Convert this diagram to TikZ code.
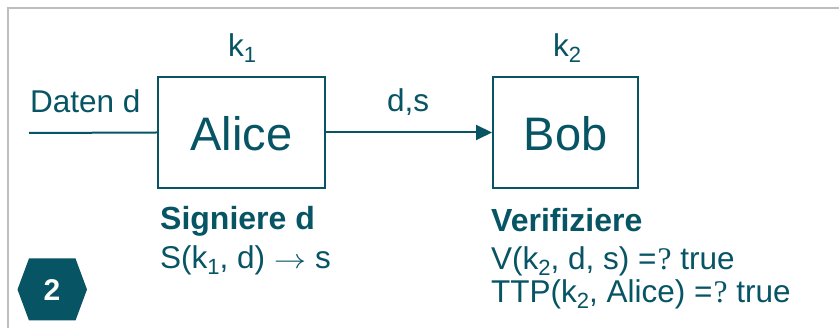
\documentclass[tikz,border=0pt]{standalone}
\usepackage{fontspec}
\usepackage{graphicx}
\setmainfont{Liberation Sans}
\newfontfamily\serifq{Liberation Serif}
\usetikzlibrary{arrows.meta}
\definecolor{teal1}{RGB}{6,84,100}
\definecolor{framegray}{RGB}{190,190,190}
\newcommand{\mysub}[1]{\raisebox{-6pt}[\height][1pt]{\fontsize{22}{22}\selectfont #1}}
\newcommand{\qeq}{=\kern1pt{\serifq ?}}
\begin{document}
\begin{tikzpicture}[x=1pt,y=-1pt,
  txt/.style={inner sep=0pt, anchor=base west, text=teal1, font=\fontsize{31.5}{36}\selectfont},
  boldtxt/.style={txt, font=\fontsize{32}{36}\selectfont\bfseries},
  party/.style={draw=teal1, line width=2pt, inner sep=0pt, text=teal1, font=\fontsize{47}{56}\selectfont, minimum height=111pt},
  conn/.style={draw=teal1, line width=2pt}]
\useasboundingbox (0,0) rectangle (839,328);
\fill[white] (0,0) rectangle (839,328);
% frame
\draw[framegray, line width=1.6pt] (8,340) -- (8,8) -- (850,8);
% boxes
\node[party, minimum width=167pt] (alice) at (241.5,132.5) {};
\node[party, minimum width=145pt] (bob) at (565.5,132.5) {};
\node[txt, anchor=base] (alicet) at (241.5,150.5) {\fontsize{47}{56}\selectfont Alice};
\node[txt, anchor=base] (bobt) at (565.5,150.5) {\fontsize{47}{56}\selectfont Bob};
% connectors
\coordinate (din) at (29,133);
\draw[conn] (din) -- (alice.west);
\draw[conn, -{Triangle[length=16pt,width=15pt]}] (alice.east) -- (bob.west);
% labels
\node[txt] (daten) at (30,113) {Daten d};
\node[txt] (ds) at (387,112) {d,s};
\node[txt] (k1) at (228,57) {k\mysub{1}};
\node[txt] (k2) at (553,57) {k\mysub{2}};
% texts below
\node[boldtxt] (sig) at (160,230) {Signiere d};
\node[txt] (sfun) at (160,269) {S(k\mysub{1}, d) \scalebox{1.3}[1.1]{$\rightarrow$} s};
\node[boldtxt] (ver) at (491,232) {Verifiziere};
\node[txt] (vfun) at (491,270) {V(k\mysub{2}, d, s) \qeq\ true};
\node[txt] (ttp) at (491,302.5) {TTP(k\mysub{2}, Alice) \qeq\ true};
% hexagon
\fill[teal1] (17.5,289.5) -- (29,258.5) -- (75.5,258.5) -- (87,289.5) -- (75.5,320.5) -- (29,320.5) -- cycle;
\node[inner sep=0pt, anchor=base, text=white, font=\fontsize{30}{36}\selectfont\bfseries] (num) at (52,300.5) {2};
\end{tikzpicture}
\end{document}
